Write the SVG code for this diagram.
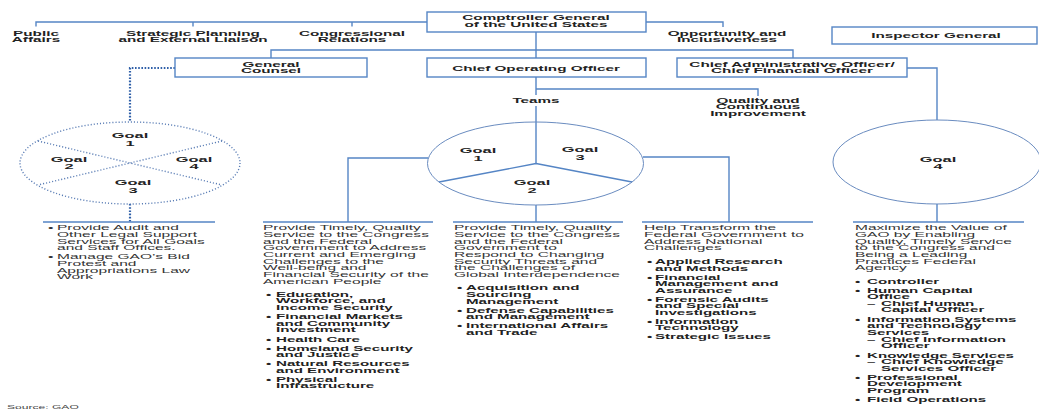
<svg xmlns="http://www.w3.org/2000/svg" width="1039" height="411" viewBox="0 0 1039 411">
<style>
.ln{stroke:#5585c5;stroke-width:1.4;fill:none}
.box{fill:#fff;stroke:#5585c5;stroke-width:1.4}
.circ{fill:none;stroke:#6a8cc0;stroke-width:1}
.dot{stroke:#2f5fa8;stroke-width:2.2;stroke-dasharray:1.6 1.6;fill:none}
.dotc{stroke:#5a7db5;stroke-width:1.4;stroke-dasharray:1.1 2;fill:none}
text{font-family:"Liberation Sans",Arial,sans-serif}
.h{font-weight:bold;font-size:7px;fill:#222;text-anchor:middle}
.g{font-weight:bold;font-size:8px;fill:#222;text-anchor:middle}
.b{font-size:6.3px;fill:#333}
.bb{font-size:6.3px;font-weight:bold;fill:#222}
.src{font-size:5.5px;fill:#444}
</style>
<rect width="1039" height="411" fill="#fff"/>
<g id="connectors">
  <path class="ln" d="M36,26.5 V22 H427 M193,22 V26.5 M352,22 V26.5 M646,22 H723 V27"/>
  <path class="ln" d="M536,32 V58 M271,58 V50 H793 V58"/>
  <path class="ln" d="M536,77 V95 M536,106 V163.5 M536,89 H758 V96"/>
  <path class="ln" d="M536,163.5 L439,182 M536,163.5 L632,182"/>
  <path class="ln" d="M428,158 H348 V222 M643,157 H729 V222 M536,205 V222"/>
  <path class="ln" d="M907,68 H937 V120 M937,204 V222"/>
  <path class="dot" d="M175,68 H130 V122 M130,204 V222"/>
  <path class="dotc" d="M38,141 L222,185 M222,141 L38,185"/>
  <path class="ln" d="M43,222 H215 M263,222 H433 M453,222 H623 M642,222 H813 M853,222 H1024"/>
</g>
<g id="comptroller">
  <rect class="box" x="427" y="12" width="219" height="20"/>
  <text class="h" transform="translate(536 20.3) scale(2.18 1)"><tspan x="0">Comptroller General</tspan><tspan x="0" dy="6.6">of the United States</tspan></text>
</g>
<g id="public-affairs"><text class="h" transform="translate(36 35.7) scale(2.18 1)"><tspan x="0">Public</tspan><tspan x="0" dy="6.5">Affairs</tspan></text></g>
<g id="strategic"><text class="h" transform="translate(193 35.7) scale(2.18 1)"><tspan x="0">Strategic Planning</tspan><tspan x="0" dy="6.5">and External Liaison</tspan></text></g>
<g id="congressional"><text class="h" transform="translate(352 35.7) scale(2.18 1)"><tspan x="0">Congressional</tspan><tspan x="0" dy="6.5">Relations</tspan></text></g>
<g id="opportunity"><text class="h" transform="translate(727 35.7) scale(2.18 1)"><tspan x="0">Opportunity and</tspan><tspan x="0" dy="6.5">Inclusiveness</tspan></text></g>
<g id="inspector">
  <rect class="box" x="832" y="27" width="205" height="17"/>
  <text class="h" transform="translate(936 38) scale(2.18 1)">Inspector General</text>
</g>
<g id="general-counsel">
  <rect class="box" x="175" y="58" width="192" height="19"/>
  <text class="h" transform="translate(271 66.5) scale(2.18 1)"><tspan x="0">General</tspan><tspan x="0" dy="6.6">Counsel</tspan></text>
</g>
<g id="coo">
  <rect class="box" x="427" y="58" width="219" height="19"/>
  <text class="h" transform="translate(536 70.5) scale(2.18 1)">Chief Operating Officer</text>
</g>
<g id="cao">
  <rect class="box" x="677" y="58" width="230" height="19"/>
  <text class="h" transform="translate(792 66.5) scale(2.18 1)"><tspan x="0">Chief Administrative Officer/</tspan><tspan x="0" dy="6.6">Chief Financial Officer</tspan></text>
</g>
<g id="teams"><text class="h" transform="translate(536 102.7) scale(2.18 1)">Teams</text></g>
<g id="quality"><text class="h" transform="translate(758 102.7) scale(2.18 1)"><tspan x="0">Quality and</tspan><tspan x="0" dy="6.6">Continuous</tspan><tspan x="0" dy="6.6">Improvement</tspan></text></g>
<g id="circle-gc">
  <ellipse class="dotc" cx="130" cy="163" rx="110" ry="41"/>
  <text class="g" transform="translate(130 137.5) scale(2.05 1)"><tspan x="0">Goal</tspan><tspan x="0" dy="8.2">1</tspan></text>
  <text class="g" transform="translate(69 161.5) scale(2.05 1)"><tspan x="0">Goal</tspan><tspan x="0" dy="7.8">2</tspan></text>
  <text class="g" transform="translate(194 161.5) scale(2.05 1)"><tspan x="0">Goal</tspan><tspan x="0" dy="7.8">4</tspan></text>
  <text class="g" transform="translate(133 185) scale(2.05 1)"><tspan x="0">Goal</tspan><tspan x="0" dy="8.2">3</tspan></text>
</g>
<g id="circle-coo">
  <ellipse class="circ" cx="535.5" cy="163.5" rx="108" ry="41.5"/>
  <text class="g" transform="translate(478 152.8) scale(2.05 1)"><tspan x="0">Goal</tspan><tspan x="0" dy="8.2">1</tspan></text>
  <text class="g" transform="translate(580 152.3) scale(2.05 1)"><tspan x="0">Goal</tspan><tspan x="0" dy="8.2">3</tspan></text>
  <text class="g" transform="translate(532 185.3) scale(2.05 1)"><tspan x="0">Goal</tspan><tspan x="0" dy="8.2">2</tspan></text>
</g>
<g id="circle-cao">
  <ellipse class="circ" cx="937" cy="162" rx="104" ry="42"/>
  <text class="g" transform="translate(938 161.5) scale(2.05 1)"><tspan x="0">Goal</tspan><tspan x="0" dy="7.8">4</tspan></text>
</g>
<g id="col-gc">
  <text class="b" transform="translate(48 230.2) scale(2.47 1)">•</text>
  <text class="b" transform="translate(57 230.2) scale(2.47 1)"><tspan x="0">Provide Audit and</tspan><tspan x="0" dy="6.67">Other Legal Support</tspan><tspan x="0" dy="6.67">Services for All Goals</tspan><tspan x="0" dy="6.67">and Staff Offices.</tspan></text>
  <text class="b" transform="translate(48 259.2) scale(2.47 1)">•</text>
  <text class="b" transform="translate(57 259.2) scale(2.47 1)"><tspan x="0">Manage GAO’s Bid</tspan><tspan x="0" dy="6.67">Protest and</tspan><tspan x="0" dy="6.67">Appropriations Law</tspan><tspan x="0" dy="6.67">Work</tspan></text>
</g>
<g id="col-goal1">
  <text class="b" transform="translate(263 230.2) scale(2.47 1)"><tspan x="0">Provide Timely, Quality</tspan><tspan x="0" dy="6.67">Service to the Congress</tspan><tspan x="0" dy="6.67">and the Federal</tspan><tspan x="0" dy="6.67">Government to Address</tspan><tspan x="0" dy="6.67">Current and Emerging</tspan><tspan x="0" dy="6.67">Challenges to the</tspan><tspan x="0" dy="6.67">Well-being and</tspan><tspan x="0" dy="6.67">Financial Security of the</tspan><tspan x="0" dy="6.67">American People</tspan></text>
  <text class="bb" transform="translate(266 296.8) scale(2.4 1)">•</text>
  <text class="bb" transform="translate(276 296.8) scale(2.4 1)"><tspan x="0">Education,</tspan><tspan x="0" dy="6.67">Workforce, and</tspan><tspan x="0" dy="6.67">Income Security</tspan></text>
  <text class="bb" transform="translate(266 319.1) scale(2.4 1)">•</text>
  <text class="bb" transform="translate(276 319.1) scale(2.4 1)"><tspan x="0">Financial Markets</tspan><tspan x="0" dy="6.67">and Community</tspan><tspan x="0" dy="6.67">Investment</tspan></text>
  <text class="bb" transform="translate(266 341.5) scale(2.4 1)">•</text>
  <text class="bb" transform="translate(276 341.5) scale(2.4 1)">Health Care</text>
  <text class="bb" transform="translate(266 350.5) scale(2.4 1)">•</text>
  <text class="bb" transform="translate(276 350.5) scale(2.4 1)"><tspan x="0">Homeland Security</tspan><tspan x="0" dy="6.67">and Justice</tspan></text>
  <text class="bb" transform="translate(266 366.2) scale(2.4 1)">•</text>
  <text class="bb" transform="translate(276 366.2) scale(2.4 1)"><tspan x="0">Natural Resources</tspan><tspan x="0" dy="6.67">and Environment</tspan></text>
  <text class="bb" transform="translate(266 381.8) scale(2.4 1)">•</text>
  <text class="bb" transform="translate(276 381.8) scale(2.4 1)"><tspan x="0">Physical</tspan><tspan x="0" dy="6.67">Infrastructure</tspan></text>
</g>
<g id="col-goal2">
  <text class="b" transform="translate(454 230.2) scale(2.47 1)"><tspan x="0">Provide Timely, Quality</tspan><tspan x="0" dy="6.67">Service to the Congress</tspan><tspan x="0" dy="6.67">and the Federal</tspan><tspan x="0" dy="6.67">Government to</tspan><tspan x="0" dy="6.67">Respond to Changing</tspan><tspan x="0" dy="6.67">Security Threats and</tspan><tspan x="0" dy="6.67">the Challenges of</tspan><tspan x="0" dy="6.67">Global Interdependence</tspan></text>
  <text class="bb" transform="translate(457 290.2) scale(2.4 1)">•</text>
  <text class="bb" transform="translate(466 290.2) scale(2.4 1)"><tspan x="0">Acquisition and</tspan><tspan x="0" dy="6.67">Sourcing</tspan><tspan x="0" dy="6.67">Management</tspan></text>
  <text class="bb" transform="translate(457 312.5) scale(2.4 1)">•</text>
  <text class="bb" transform="translate(466 312.5) scale(2.4 1)"><tspan x="0">Defense Capabilities</tspan><tspan x="0" dy="6.67">and Management</tspan></text>
  <text class="bb" transform="translate(457 328.2) scale(2.4 1)">•</text>
  <text class="bb" transform="translate(466 328.2) scale(2.4 1)"><tspan x="0">International Affairs</tspan><tspan x="0" dy="6.67">and Trade</tspan></text>
</g>
<g id="col-goal3">
  <text class="b" transform="translate(644 230.2) scale(2.47 1)"><tspan x="0">Help Transform the</tspan><tspan x="0" dy="6.67">Federal Government to</tspan><tspan x="0" dy="6.67">Address National</tspan><tspan x="0" dy="6.67">Challenges</tspan></text>
  <text class="bb" transform="translate(647 264.2) scale(2.4 1)">•</text>
  <text class="bb" transform="translate(655 264.2) scale(2.4 1)"><tspan x="0">Applied Research</tspan><tspan x="0" dy="6.67">and Methods</tspan></text>
  <text class="bb" transform="translate(647 279.5) scale(2.4 1)">•</text>
  <text class="bb" transform="translate(655 279.5) scale(2.4 1)"><tspan x="0">Financial</tspan><tspan x="0" dy="6.67">Management and</tspan><tspan x="0" dy="6.67">Assurance</tspan></text>
  <text class="bb" transform="translate(647 301.8) scale(2.4 1)">•</text>
  <text class="bb" transform="translate(655 301.8) scale(2.4 1)"><tspan x="0">Forensic Audits</tspan><tspan x="0" dy="6.67">and Special</tspan><tspan x="0" dy="6.67">Investigations</tspan></text>
  <text class="bb" transform="translate(647 323.8) scale(2.4 1)">•</text>
  <text class="bb" transform="translate(655 323.8) scale(2.4 1)"><tspan x="0">Information</tspan><tspan x="0" dy="6.67">Technology</tspan></text>
  <text class="bb" transform="translate(647 339.4) scale(2.4 1)">•</text>
  <text class="bb" transform="translate(655 339.4) scale(2.4 1)">Strategic Issues</text>
</g>
<g id="col-goal4">
  <text class="b" transform="translate(855 230.2) scale(2.47 1)"><tspan x="0">Maximize the Value of</tspan><tspan x="0" dy="6.67">GAO by Enabling</tspan><tspan x="0" dy="6.67">Quality, Timely Service</tspan><tspan x="0" dy="6.67">to the Congress and</tspan><tspan x="0" dy="6.67">Being a Leading</tspan><tspan x="0" dy="6.67">Practices Federal</tspan><tspan x="0" dy="6.67">Agency</tspan></text>
  <text class="bb" transform="translate(855 283.5) scale(2.4 1)">•</text>
  <text class="bb" transform="translate(867 283.5) scale(2.4 1)">Controller</text>
  <text class="bb" transform="translate(855 292.5) scale(2.4 1)">•</text>
  <text class="bb" transform="translate(867 292.5) scale(2.4 1)"><tspan x="0">Human Capital</tspan><tspan x="0" dy="6.67">Office</tspan></text>
  <text class="bb" transform="translate(867 305.8) scale(2.4 1)">–</text>
  <text class="bb" transform="translate(881 305.8) scale(2.4 1)"><tspan x="0">Chief Human</tspan><tspan x="0" dy="6.67">Capital Officer</tspan></text>
  <text class="bb" transform="translate(855 321.5) scale(2.4 1)">•</text>
  <text class="bb" transform="translate(867 321.5) scale(2.4 1)"><tspan x="0">Information Systems</tspan><tspan x="0" dy="6.67">and Technology</tspan><tspan x="0" dy="6.67">Services</tspan></text>
  <text class="bb" transform="translate(867 341.5) scale(2.4 1)">–</text>
  <text class="bb" transform="translate(881 341.5) scale(2.4 1)"><tspan x="0">Chief Information</tspan><tspan x="0" dy="6.67">Officer</tspan></text>
  <text class="bb" transform="translate(855 357.5) scale(2.4 1)">•</text>
  <text class="bb" transform="translate(867 357.5) scale(2.4 1)">Knowledge Services</text>
  <text class="bb" transform="translate(867 364.2) scale(2.4 1)">–</text>
  <text class="bb" transform="translate(881 364.2) scale(2.4 1)"><tspan x="0">Chief Knowledge</tspan><tspan x="0" dy="6.67">Services Officer</tspan></text>
  <text class="bb" transform="translate(855 379.8) scale(2.4 1)">•</text>
  <text class="bb" transform="translate(867 379.8) scale(2.4 1)"><tspan x="0">Professional</tspan><tspan x="0" dy="6.67">Development</tspan><tspan x="0" dy="6.67">Program</tspan></text>
  <text class="bb" transform="translate(855 401.8) scale(2.4 1)">•</text>
  <text class="bb" transform="translate(867 401.8) scale(2.4 1)">Field Operations</text>
</g>
<g id="source"><text class="src" transform="translate(7 409) scale(2.2 1)">Source: GAO</text></g>
</svg>
